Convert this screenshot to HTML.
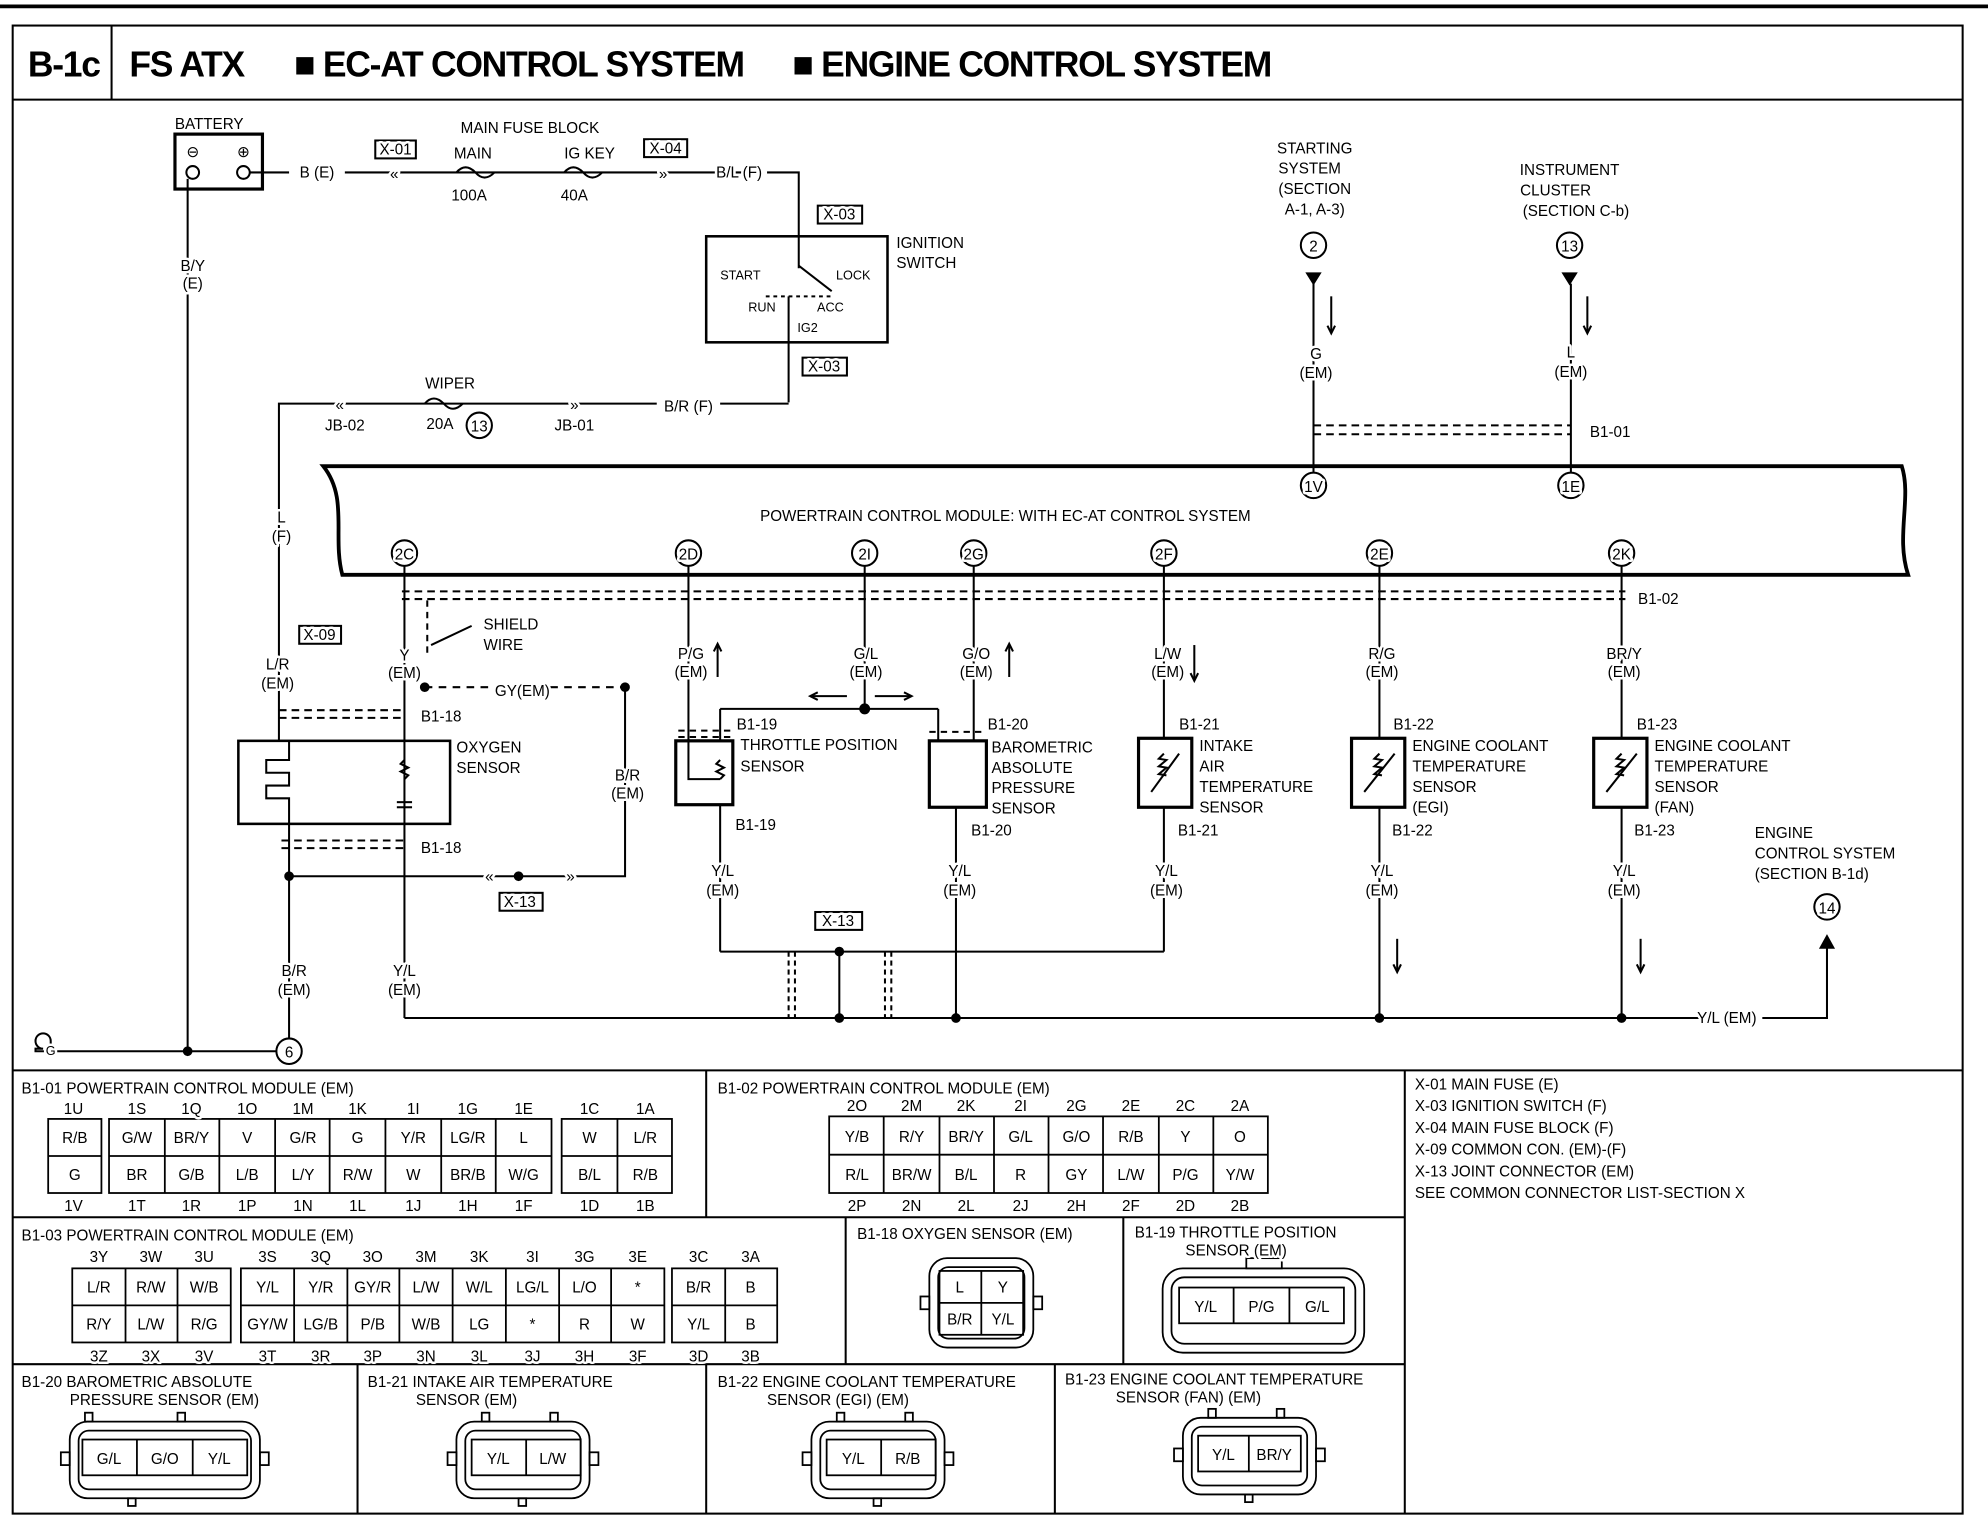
<!DOCTYPE html>
<html><head><meta charset="utf-8"><style>
html,body{margin:0;padding:0;background:#fff}
svg{display:block}
text{font-family:"Liberation Sans",sans-serif;font-size:12px;fill:#000;paint-order:stroke;stroke:#fff;stroke-width:4px;stroke-linejoin:round}
.t{font-size:28px;letter-spacing:-1px;font-weight:bold;stroke-width:0}
.c{text-anchor:middle}
.s{font-size:10px}
</style></head><body>
<svg width="1988" height="1520" viewBox="0 0 1568 1190" preserveAspectRatio="none" xmlns="http://www.w3.org/2000/svg">
<g fill="none" stroke="#000" stroke-width="1.6">
<line x1="0" y1="5" x2="1568" y2="5" stroke-width="3"/>
<rect x="10" y="20" width="1538" height="1165"/>
<line x1="10" y1="78" x2="1548" y2="78"/>
<line x1="88" y1="20" x2="88" y2="78"/>
<line x1="10" y1="838" x2="1548" y2="838"/>
<line x1="557" y1="838" x2="557" y2="953"/>
<line x1="1108" y1="838" x2="1108" y2="1185"/>
<line x1="10" y1="953" x2="1108" y2="953"/>
<line x1="667" y1="953" x2="667" y2="1068"/>
<line x1="886" y1="953" x2="886" y2="1068"/>
<line x1="10" y1="1068" x2="1108" y2="1068"/>
<line x1="282" y1="1068" x2="282" y2="1185"/>
<line x1="557" y1="1068" x2="557" y2="1185"/>
<line x1="832" y1="1068" x2="832" y2="1185"/>

<!-- battery -->
<rect x="138" y="105" width="69" height="43" stroke-width="2.5"/>
<circle cx="152" cy="135" r="5"/><circle cx="192" cy="135" r="5"/>
<line x1="148" y1="140" x2="148" y2="823"/>
<line x1="197" y1="135" x2="228" y2="135"/>
<line x1="272" y1="135" x2="600" y2="135"/>
<path d="M360 135 q7 -8 15 0 q7 8 15 0"/><path d="M445 135 q7 -8 15 0 q7 8 15 0"/>
<rect x="296" y="110" width="32" height="14"/><rect x="508" y="109" width="34" height="14"/>
<path d="M605 135 H630 V210"/>
<rect x="645" y="161" width="35" height="14"/>
<!-- ignition switch -->
<rect x="557" y="185" width="143" height="83" stroke-width="2"/>
<line x1="630" y1="208" x2="656" y2="228"/>
<line x1="604" y1="232" x2="656" y2="232" stroke-dasharray="3,3"/>
<line x1="622" y1="232" x2="622" y2="315"/>
<rect x="633" y="280" width="35" height="14"/>
<path d="M622 316 H568"/>
<path d="M518 316 H220 V580"/>
<path d="M335 316 q7 -8 15 0 q7 8 15 0"/>
<circle cx="378" cy="333" r="10"/>
<rect x="236" y="490" width="33" height="14"/>

<!-- PCM -->
<path d="M255 365 H1500 C1508 390 1495 420 1505 450 H270 C262 420 275 390 255 365 Z" stroke-width="3"/>
<circle cx="1036" cy="380" r="10"/><circle cx="1239" cy="380" r="10"/>
<circle cx="319" cy="433" r="10"/><circle cx="543" cy="433" r="10"/><circle cx="682" cy="433" r="10"/><circle cx="768" cy="433" r="10"/><circle cx="918" cy="433" r="10"/><circle cx="1088" cy="433" r="10"/><circle cx="1279" cy="433" r="10"/>

<circle cx="1036" cy="192" r="10"/><circle cx="1238" cy="192" r="10"/>
<path d="M1031 214 h10 l-5 8 z" fill="#000"/><path d="M1233 214 h10 l-5 8 z" fill="#000"/>
<line x1="1036" y1="222" x2="1036" y2="370"/><line x1="1239" y1="222" x2="1239" y2="370"/>
<line x1="1050" y1="232" x2="1050" y2="260"/><path d="M1047 255 l3 6 l3 -6"/>
<line x1="1252" y1="232" x2="1252" y2="260"/><path d="M1249 255 l3 6 l3 -6"/>
<line x1="1036" y1="333" x2="1239" y2="333" stroke-dasharray="6,4"/>
<line x1="1036" y1="340" x2="1239" y2="340" stroke-dasharray="6,4"/>

<line x1="317" y1="463" x2="1282" y2="463" stroke-dasharray="6,4"/>
<line x1="317" y1="469" x2="1282" y2="469" stroke-dasharray="6,4"/>

<!-- 2C / oxygen -->
<line x1="319" y1="443" x2="319" y2="797"/>
<line x1="337" y1="470" x2="337" y2="515" stroke-dasharray="5,4"/>
<line x1="340" y1="505" x2="372" y2="490"/>
<line x1="335" y1="538" x2="493" y2="538" stroke-dasharray="6,5"/>
<circle cx="335" cy="538" r="3" fill="#000"/><circle cx="493" cy="538" r="3" fill="#000"/>
<path d="M493 538 V686 H228"/>
<circle cx="409" cy="686" r="3" fill="#000"/>
<rect x="394" y="699" width="34" height="14"/>
<line x1="220" y1="556" x2="319" y2="556" stroke-dasharray="6,4"/>
<line x1="220" y1="562" x2="319" y2="562" stroke-dasharray="6,4"/>
<rect x="188" y="580" width="167" height="65" stroke-width="2"/>
<path d="M228 580 V595 H210 V605 H228 V615 H210 V625 H228 V645"/>
<path d="M319 595 l-3 3 l6 3 l-6 3 l6 3 l-3 3"/>
<line x1="313" y1="628" x2="325" y2="628"/><line x1="313" y1="632" x2="325" y2="632"/>
<line x1="222" y1="658" x2="319" y2="658" stroke-dasharray="6,4"/>
<line x1="222" y1="664" x2="319" y2="664" stroke-dasharray="6,4"/>
<line x1="228" y1="645" x2="228" y2="813"/>
<circle cx="228" cy="686" r="3" fill="#000"/>
<circle cx="228" cy="823" r="10"/>
<line x1="40" y1="823" x2="218" y2="823"/>
<circle cx="148" cy="823" r="3" fill="#000"/>
<path d="M40 823 v-8 a6 6 0 1 0 -6 6 h-6 v2 z"/>
<line x1="319" y1="797" x2="1340" y2="797"/>
<path d="M1390 797 H1441 V738"/><path d="M1436 742 l5 -9 l5 9 z" fill="#000"/>
<circle cx="1441" cy="710" r="10"/>

<!-- 2D throttle -->
<line x1="543" y1="443" x2="543" y2="580"/>
<line x1="566" y1="505" x2="566" y2="530"/><path d="M563 510 l3 -6 l3 6"/>
<line x1="535" y1="572" x2="578" y2="572" stroke-dasharray="5,4"/>
<line x1="535" y1="577" x2="578" y2="577" stroke-dasharray="5,4"/>
<rect x="533" y="580" width="45" height="50" stroke-width="2.5"/>
<path d="M543 580 V610 H568"/><path d="M568 595 l-3 3 l6 3 l-6 3 l6 3 l-3 3"/>
<line x1="568" y1="555" x2="568" y2="580"/>
<line x1="568" y1="630" x2="568" y2="745"/>
<line x1="568" y1="555" x2="740" y2="555"/>
<line x1="740" y1="555" x2="740" y2="580"/>
<line x1="682" y1="443" x2="682" y2="555"/>
<circle cx="682" cy="555" r="3.5" fill="#000"/>
<line x1="640" y1="545" x2="668" y2="545"/><path d="M645 542 l-6 3 l6 3"/>
<line x1="690" y1="545" x2="718" y2="545"/><path d="M713 542 l6 3 l-6 3"/>
<!-- 2G BAP -->
<line x1="768" y1="443" x2="768" y2="580"/>
<line x1="796" y1="505" x2="796" y2="530"/><path d="M793 510 l3 -6 l3 6"/>
<line x1="733" y1="573" x2="778" y2="573" stroke-dasharray="5,4"/>
<rect x="733" y="580" width="45" height="52" stroke-width="2.5"/>
<line x1="754" y1="632" x2="754" y2="797"/>
<!-- 2F IAT -->
<line x1="918" y1="443" x2="918" y2="578"/>
<line x1="942" y1="505" x2="942" y2="532"/><path d="M939 527 l3 6 l3 -6"/>
<rect x="898" y="578" width="42" height="54" stroke-width="2.5"/>
<line x1="918" y1="632" x2="918" y2="745"/>
<line x1="908" y1="620" x2="930" y2="590"/>
<path d="M918 590 l-4 4 l6 1 l-6 5 l6 1 l-6 5 l6 1"/>
<!-- 2E -->
<line x1="1088" y1="443" x2="1088" y2="578"/>
<rect x="1066" y="578" width="42" height="54" stroke-width="2.5"/>
<line x1="1076" y1="620" x2="1100" y2="590"/><path d="M1088 590 l-4 4 l6 1 l-6 5 l6 1 l-6 5 l6 1"/>
<line x1="1088" y1="632" x2="1088" y2="797"/>
<line x1="1102" y1="735" x2="1102" y2="760"/><path d="M1099 755 l3 6 l3 -6"/>
<circle cx="1088" cy="797" r="3" fill="#000"/>
<!-- 2K -->
<line x1="1279" y1="443" x2="1279" y2="578"/>
<rect x="1257" y="578" width="42" height="54" stroke-width="2.5"/>
<line x1="1267" y1="620" x2="1291" y2="590"/><path d="M1279 590 l-4 4 l6 1 l-6 5 l6 1 l-6 5 l6 1"/>
<line x1="1279" y1="632" x2="1279" y2="797"/>
<line x1="1294" y1="735" x2="1294" y2="760"/><path d="M1291 755 l3 6 l3 -6"/>
<circle cx="1279" cy="797" r="3" fill="#000"/>
<!-- X-13 bottom -->
<line x1="568" y1="745" x2="918" y2="745"/>
<rect x="643" y="714" width="37" height="14"/>
<line x1="662" y1="745" x2="662" y2="797"/>
<circle cx="662" cy="745" r="3" fill="#000"/><circle cx="662" cy="797" r="3" fill="#000"/><circle cx="754" cy="797" r="3" fill="#000"/>
<line x1="622" y1="745" x2="622" y2="797" stroke-dasharray="4,3"/><line x1="627" y1="745" x2="627" y2="797" stroke-dasharray="4,3"/>
<line x1="698" y1="745" x2="698" y2="797" stroke-dasharray="4,3"/><line x1="703" y1="745" x2="703" y2="797" stroke-dasharray="4,3"/>

<!-- tables -->
<g stroke-width="1.4">
<rect x="38" y="876" width="42" height="58"/><line x1="38" y1="905" x2="80" y2="905"/>
<rect x="86" y="876" width="349" height="58"/><line x1="86" y1="905" x2="435" y2="905"/>
<path d="M130 876V934M173 876V934M217 876V934M260 876V934M304 876V934M348 876V934M391 876V934"/>
<rect x="443" y="876" width="87" height="58"/><line x1="443" y1="905" x2="530" y2="905"/><line x1="487" y1="876" x2="487" y2="934"/>

<rect x="654" y="874" width="346" height="60"/><line x1="654" y1="904" x2="1000" y2="904"/>
<path d="M697 874V934M741 874V934M784 874V934M827 874V934M870 874V934M914 874V934M957 874V934"/>

<rect x="57" y="993" width="125" height="58"/><line x1="57" y1="1022" x2="182" y2="1022"/><path d="M99 993V1051M140 993V1051"/>
<rect x="190" y="993" width="334" height="58"/><line x1="190" y1="1022" x2="524" y2="1022"/>
<path d="M232 993V1051M274 993V1051M315 993V1051M357 993V1051M399 993V1051M441 993V1051M482 993V1051"/>
<rect x="530" y="993" width="83" height="58"/><line x1="530" y1="1022" x2="613" y2="1022"/><line x1="572" y1="993" x2="572" y2="1051"/>

<rect x="733" y="985" width="82" height="70" rx="14"/>
<rect x="740" y="992" width="68" height="56" rx="8"/>
<rect x="741" y="995" width="66" height="50"/><line x1="741" y1="1020" x2="807" y2="1020"/><line x1="774" y1="995" x2="774" y2="1045"/>
<rect x="726" y="1015" width="7" height="10"/><rect x="815" y="1015" width="7" height="10"/>
<rect x="917" y="993" width="159" height="66" rx="16"/>
<rect x="924" y="1000" width="145" height="52" rx="10"/>
<rect x="930" y="1008" width="130" height="28"/><path d="M973 1008V1036M1017 1008V1036"/>
<rect x="983" y="985" width="28" height="8"/>
<rect x="55" y="1113" width="150" height="60" rx="14"/><rect x="62" y="1120" width="136" height="46" rx="8"/>
<rect x="65" y="1127" width="130" height="28"/><path d="M108 1127V1155M152 1127V1155"/>
<rect x="48" y="1137" width="7" height="10"/><rect x="205" y="1137" width="7" height="10"/>
<rect x="67" y="1106" width="6" height="7"/><rect x="140" y="1106" width="6" height="7"/><rect x="101" y="1173" width="6" height="6"/>
<rect x="360" y="1113" width="105" height="60" rx="14"/><rect x="367" y="1120" width="91" height="46" rx="8"/>
<rect x="372" y="1127" width="86" height="28"/><line x1="415" y1="1127" x2="415" y2="1155"/>
<rect x="353" y="1137" width="7" height="10"/><rect x="465" y="1137" width="7" height="10"/>
<rect x="380" y="1106" width="6" height="7"/><rect x="434" y="1106" width="6" height="7"/><rect x="409" y="1173" width="6" height="6"/>
<rect x="640" y="1113" width="105" height="60" rx="14"/><rect x="647" y="1120" width="91" height="46" rx="8"/>
<rect x="652" y="1127" width="86" height="28"/><line x1="695" y1="1127" x2="695" y2="1155"/>
<rect x="633" y="1137" width="7" height="10"/><rect x="745" y="1137" width="7" height="10"/>
<rect x="660" y="1106" width="6" height="7"/><rect x="714" y="1106" width="6" height="7"/><rect x="689" y="1173" width="6" height="6"/>
<rect x="933" y="1110" width="105" height="60" rx="14"/><rect x="940" y="1117" width="91" height="46" rx="8"/>
<rect x="945" y="1124" width="81" height="28"/><line x1="985" y1="1124" x2="985" y2="1152"/>
<rect x="926" y="1134" width="7" height="10"/><rect x="1038" y="1134" width="7" height="10"/>
<rect x="953" y="1103" width="6" height="7"/><rect x="1007" y="1103" width="6" height="7"/><rect x="982" y="1170" width="6" height="6"/>
</g>
</g>

<text class="t" x="22" y="60">B-1c</text>
<text class="t" x="102" y="60">FS ATX</text>
<text class="t" x="232" y="60">■ EC-AT CONTROL SYSTEM</text>
<text class="t" x="625" y="60">■ ENGINE CONTROL SYSTEM</text>

<g>
<text x="165" y="101" class="c">BATTERY</text>
<text x="152" y="123" class="c" font-size="14">⊖</text><text x="192" y="123" class="c" font-size="14">⊕</text>
<text x="250" y="139" class="c">B (E)</text>
<text x="312" y="121" class="c">X-01</text>
<text x="418" y="104" class="c">MAIN FUSE BLOCK</text>
<text x="373" y="124" class="c">MAIN</text><text x="370" y="157" class="c">100A</text>
<text x="465" y="124" class="c">IG KEY</text><text x="453" y="157" class="c">40A</text>
<text x="525" y="120" class="c">X-04</text>
<text x="583" y="139" class="c">B/L (F)</text>
<text x="311" y="140" class="c" font-size="14">«</text>
<text x="523" y="140" class="c" font-size="14">»</text>
<text x="662" y="172" class="c">X-03</text>
<text x="707" y="194">IGNITION</text><text x="707" y="210">SWITCH</text>
<text x="584" y="219" class="c s">START</text><text x="673" y="219" class="c s">LOCK</text>
<text x="601" y="244" class="c s">RUN</text><text x="655" y="244" class="c s">ACC</text><text x="637" y="260" class="c s">IG2</text>
<text x="650" y="291" class="c">X-03</text>
<text x="543" y="322" class="c">B/R (F)</text>
<text x="355" y="304" class="c">WIPER</text><text x="347" y="336" class="c">20A</text><text x="378" y="338" class="c">13</text>
<text x="272" y="337" class="c">JB-02</text><text x="453" y="337" class="c">JB-01</text>
<text x="268" y="321" class="c" font-size="14">«</text><text x="453" y="321" class="c" font-size="14">»</text>
<text x="152" y="212" class="c">B/Y</text><text x="152" y="226" class="c">(E)</text>
<text x="222" y="409" class="c">L</text><text x="222" y="424" class="c">(F)</text>
<text x="252" y="501" class="c">X-09</text>
<text x="219" y="524" class="c">L/R</text><text x="219" y="539" class="c">(EM)</text>

<text x="1037" y="120" class="c">STARTING</text><text x="1033" y="136" class="c">SYSTEM</text><text x="1037" y="152" class="c">(SECTION</text><text x="1037" y="168" class="c">A-1, A-3)</text>
<text x="1036" y="197" class="c">2</text>
<text x="1238" y="137" class="c">INSTRUMENT</text><text x="1227" y="153" class="c">CLUSTER</text><text x="1243" y="169" class="c">(SECTION C-b)</text>
<text x="1238" y="197" class="c">13</text>
<text x="1038" y="281" class="c">G</text><text x="1038" y="296" class="c">(EM)</text>
<text x="1239" y="280" class="c">L</text><text x="1239" y="295" class="c">(EM)</text>
<text x="1270" y="342" class="c">B1-01</text>
<text x="1036" y="385" class="c">1V</text><text x="1239" y="385" class="c">1E</text>
<text x="793" y="408" class="c">POWERTRAIN CONTROL MODULE: WITH EC-AT CONTROL SYSTEM</text>
<text x="319" y="438" class="c">2C</text><text x="543" y="438" class="c">2D</text><text x="682" y="438" class="c">2I</text><text x="768" y="438" class="c">2G</text><text x="918" y="438" class="c">2F</text><text x="1088" y="438" class="c">2E</text><text x="1279" y="438" class="c">2K</text>
<text x="1308" y="473" class="c">B1-02</text>

<text x="319" y="517" class="c">Y</text><text x="319" y="531" class="c">(EM)</text>
<text x="403" y="493" class="c">SHIELD</text><text x="397" y="509" class="c">WIRE</text>
<text x="412" y="545" class="c">GY(EM)</text>
<text x="495" y="611" class="c">B/R</text><text x="495" y="625" class="c">(EM)</text>
<text x="348" y="565" class="c">B1-18</text><text x="348" y="668" class="c">B1-18</text>
<text x="360" y="589">OXYGEN</text><text x="360" y="605">SENSOR</text>
<text x="410" y="710" class="c">X-13</text>
<text x="232" y="764" class="c">B/R</text><text x="232" y="779" class="c">(EM)</text>
<text x="319" y="764" class="c">Y/L</text><text x="319" y="779" class="c">(EM)</text>
<text x="228" y="828" class="c">6</text>
<text x="40" y="826" class="c s">G</text>
<text x="386" y="690" class="c" font-size="14">«</text><text x="450" y="690" class="c" font-size="14">»</text>

<text x="545" y="516" class="c">P/G</text><text x="545" y="530" class="c">(EM)</text>
<text x="683" y="516" class="c">G/L</text><text x="683" y="530" class="c">(EM)</text>
<text x="770" y="516" class="c">G/O</text><text x="770" y="530" class="c">(EM)</text>
<text x="921" y="516" class="c">L/W</text><text x="921" y="530" class="c">(EM)</text>
<text x="1090" y="516" class="c">R/G</text><text x="1090" y="530" class="c">(EM)</text>
<text x="1281" y="516" class="c">BR/Y</text><text x="1281" y="530" class="c">(EM)</text>

<text x="581" y="571">B1-19</text>
<text x="584" y="587">THROTTLE POSITION</text><text x="584" y="604">SENSOR</text>
<text x="580" y="650">B1-19</text>
<text x="779" y="571">B1-20</text>
<text x="782" y="589">BAROMETRIC</text><text x="782" y="605">ABSOLUTE</text><text x="782" y="621">PRESSURE</text><text x="782" y="637">SENSOR</text>
<text x="766" y="654">B1-20</text>
<text x="930" y="571">B1-21</text>
<text x="946" y="588">INTAKE</text><text x="946" y="604">AIR</text><text x="946" y="620">TEMPERATURE</text><text x="946" y="636">SENSOR</text>
<text x="929" y="654">B1-21</text>
<text x="1099" y="571">B1-22</text>
<text x="1114" y="588">ENGINE COOLANT</text><text x="1114" y="604">TEMPERATURE</text><text x="1114" y="620">SENSOR</text><text x="1114" y="636">(EGI)</text>
<text x="1098" y="654">B1-22</text>
<text x="1291" y="571">B1-23</text>
<text x="1305" y="588">ENGINE COOLANT</text><text x="1305" y="604">TEMPERATURE</text><text x="1305" y="620">SENSOR</text><text x="1305" y="636">(FAN)</text>
<text x="1289" y="654">B1-23</text>
<text x="570" y="686" class="c">Y/L</text><text x="570" y="701" class="c">(EM)</text>
<text x="757" y="686" class="c">Y/L</text><text x="757" y="701" class="c">(EM)</text>
<text x="920" y="686" class="c">Y/L</text><text x="920" y="701" class="c">(EM)</text>
<text x="1090" y="686" class="c">Y/L</text><text x="1090" y="701" class="c">(EM)</text>
<text x="1281" y="686" class="c">Y/L</text><text x="1281" y="701" class="c">(EM)</text>
<text x="661" y="725" class="c">X-13</text>
<text x="1362" y="801" class="c">Y/L (EM)</text>
<text x="1384" y="656">ENGINE</text><text x="1384" y="672">CONTROL SYSTEM</text><text x="1384" y="688">(SECTION B-1d)</text>
<text x="1441" y="715" class="c">14</text>

<text x="17" y="856">B1-01  POWERTRAIN CONTROL MODULE (EM)</text>
<text x="58" y="872" class="c">1U</text><text x="108" y="872" class="c">1S</text><text x="151" y="872" class="c">1Q</text><text x="195" y="872" class="c">1O</text><text x="239" y="872" class="c">1M</text><text x="282" y="872" class="c">1K</text><text x="326" y="872" class="c">1I</text><text x="369" y="872" class="c">1G</text><text x="413" y="872" class="c">1E</text><text x="465" y="872" class="c">1C</text><text x="509" y="872" class="c">1A</text>
<text x="59" y="895" class="c">R/B</text><text x="108" y="895" class="c">G/W</text><text x="151" y="895" class="c">BR/Y</text><text x="195" y="895" class="c">V</text><text x="239" y="895" class="c">G/R</text><text x="282" y="895" class="c">G</text><text x="326" y="895" class="c">Y/R</text><text x="369" y="895" class="c">LG/R</text><text x="413" y="895" class="c">L</text><text x="465" y="895" class="c">W</text><text x="509" y="895" class="c">L/R</text>
<text x="59" y="924" class="c">G</text><text x="108" y="924" class="c">BR</text><text x="151" y="924" class="c">G/B</text><text x="195" y="924" class="c">L/B</text><text x="239" y="924" class="c">L/Y</text><text x="282" y="924" class="c">R/W</text><text x="326" y="924" class="c">W</text><text x="369" y="924" class="c">BR/B</text><text x="413" y="924" class="c">W/G</text><text x="465" y="924" class="c">B/L</text><text x="509" y="924" class="c">R/B</text>
<text x="58" y="948" class="c">1V</text><text x="108" y="948" class="c">1T</text><text x="151" y="948" class="c">1R</text><text x="195" y="948" class="c">1P</text><text x="239" y="948" class="c">1N</text><text x="282" y="948" class="c">1L</text><text x="326" y="948" class="c">1J</text><text x="369" y="948" class="c">1H</text><text x="413" y="948" class="c">1F</text><text x="465" y="948" class="c">1D</text><text x="509" y="948" class="c">1B</text>

<text x="566" y="856">B1-02  POWERTRAIN CONTROL MODULE (EM)</text>
<text x="676" y="870" class="c">2O</text><text x="719" y="870" class="c">2M</text><text x="762" y="870" class="c">2K</text><text x="805" y="870" class="c">2I</text><text x="849" y="870" class="c">2G</text><text x="892" y="870" class="c">2E</text><text x="935" y="870" class="c">2C</text><text x="978" y="870" class="c">2A</text>
<text x="676" y="894" class="c">Y/B</text><text x="719" y="894" class="c">R/Y</text><text x="762" y="894" class="c">BR/Y</text><text x="805" y="894" class="c">G/L</text><text x="849" y="894" class="c">G/O</text><text x="892" y="894" class="c">R/B</text><text x="935" y="894" class="c">Y</text><text x="978" y="894" class="c">O</text>
<text x="676" y="924" class="c">R/L</text><text x="719" y="924" class="c">BR/W</text><text x="762" y="924" class="c">B/L</text><text x="805" y="924" class="c">R</text><text x="849" y="924" class="c">GY</text><text x="892" y="924" class="c">L/W</text><text x="935" y="924" class="c">P/G</text><text x="978" y="924" class="c">Y/W</text>
<text x="676" y="948" class="c">2P</text><text x="719" y="948" class="c">2N</text><text x="762" y="948" class="c">2L</text><text x="805" y="948" class="c">2J</text><text x="849" y="948" class="c">2H</text><text x="892" y="948" class="c">2F</text><text x="935" y="948" class="c">2D</text><text x="978" y="948" class="c">2B</text>

<text x="1116" y="853">X-01   MAIN FUSE (E)</text>
<text x="1116" y="870">X-03   IGNITION SWITCH (F)</text>
<text x="1116" y="887">X-04   MAIN FUSE BLOCK (F)</text>
<text x="1116" y="904">X-09   COMMON CON. (EM)-(F)</text>
<text x="1116" y="921">X-13   JOINT CONNECTOR (EM)</text>
<text x="1116" y="938">SEE COMMON CONNECTOR LIST-SECTION X</text>

<text x="17" y="971">B1-03  POWERTRAIN CONTROL MODULE (EM)</text>
<text x="78" y="988" class="c">3Y</text><text x="119" y="988" class="c">3W</text><text x="161" y="988" class="c">3U</text><text x="211" y="988" class="c">3S</text><text x="253" y="988" class="c">3Q</text><text x="294" y="988" class="c">3O</text><text x="336" y="988" class="c">3M</text><text x="378" y="988" class="c">3K</text><text x="420" y="988" class="c">3I</text><text x="461" y="988" class="c">3G</text><text x="503" y="988" class="c">3E</text><text x="551" y="988" class="c">3C</text><text x="592" y="988" class="c">3A</text>
<text x="78" y="1012" class="c">L/R</text><text x="119" y="1012" class="c">R/W</text><text x="161" y="1012" class="c">W/B</text><text x="211" y="1012" class="c">Y/L</text><text x="253" y="1012" class="c">Y/R</text><text x="294" y="1012" class="c">GY/R</text><text x="336" y="1012" class="c">L/W</text><text x="378" y="1012" class="c">W/L</text><text x="420" y="1012" class="c">LG/L</text><text x="461" y="1012" class="c">L/O</text><text x="503" y="1012" class="c">*</text><text x="551" y="1012" class="c">B/R</text><text x="592" y="1012" class="c">B</text>
<text x="78" y="1041" class="c">R/Y</text><text x="119" y="1041" class="c">L/W</text><text x="161" y="1041" class="c">R/G</text><text x="211" y="1041" class="c">GY/W</text><text x="253" y="1041" class="c">LG/B</text><text x="294" y="1041" class="c">P/B</text><text x="336" y="1041" class="c">W/B</text><text x="378" y="1041" class="c">LG</text><text x="420" y="1041" class="c">*</text><text x="461" y="1041" class="c">R</text><text x="503" y="1041" class="c">W</text><text x="551" y="1041" class="c">Y/L</text><text x="592" y="1041" class="c">B</text>
<text x="78" y="1066" class="c">3Z</text><text x="119" y="1066" class="c">3X</text><text x="161" y="1066" class="c">3V</text><text x="211" y="1066" class="c">3T</text><text x="253" y="1066" class="c">3R</text><text x="294" y="1066" class="c">3P</text><text x="336" y="1066" class="c">3N</text><text x="378" y="1066" class="c">3L</text><text x="420" y="1066" class="c">3J</text><text x="461" y="1066" class="c">3H</text><text x="503" y="1066" class="c">3F</text><text x="551" y="1066" class="c">3D</text><text x="592" y="1066" class="c">3B</text>

<text x="676" y="970">B1-18  OXYGEN SENSOR (EM)</text>
<text x="757" y="1012" class="c">L</text><text x="791" y="1012" class="c">Y</text><text x="757" y="1037" class="c">B/R</text><text x="791" y="1037" class="c">Y/L</text>
<text x="895" y="969">B1-19  THROTTLE POSITION</text><text x="935" y="983">SENSOR (EM)</text>
<text x="951" y="1027" class="c">Y/L</text><text x="995" y="1027" class="c">P/G</text><text x="1039" y="1027" class="c">G/L</text>

<text x="17" y="1086">B1-20  BAROMETRIC ABSOLUTE</text><text x="55" y="1100">PRESSURE SENSOR (EM)</text>
<text x="86" y="1146" class="c">G/L</text><text x="130" y="1146" class="c">G/O</text><text x="173" y="1146" class="c">Y/L</text>
<text x="290" y="1086">B1-21  INTAKE AIR TEMPERATURE</text><text x="328" y="1100">SENSOR (EM)</text>
<text x="393" y="1146" class="c">Y/L</text><text x="436" y="1146" class="c">L/W</text>
<text x="566" y="1086">B1-22  ENGINE COOLANT TEMPERATURE</text><text x="605" y="1100">SENSOR (EGI) (EM)</text>
<text x="673" y="1146" class="c">Y/L</text><text x="716" y="1146" class="c">R/B</text>
<text x="840" y="1084">B1-23  ENGINE COOLANT TEMPERATURE</text><text x="880" y="1098">SENSOR (FAN) (EM)</text>
<text x="965" y="1143" class="c">Y/L</text><text x="1005" y="1143" class="c">BR/Y</text>
</g>
</svg>
</body></html>
